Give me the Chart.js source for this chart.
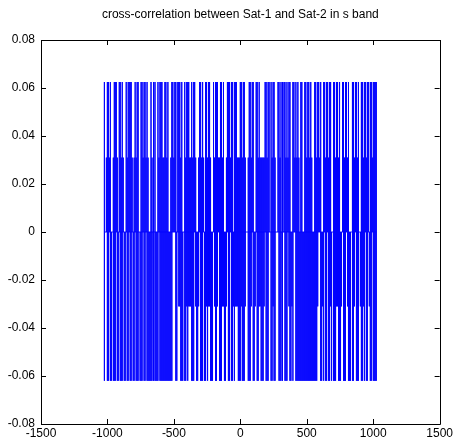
<!DOCTYPE html>
<html>
<head>
<meta charset="utf-8">
<script src="https://cdn.jsdelivr.net/npm/chart.js@4/dist/chart.umd.min.js"></script>
<style>
	html, body { margin: 0; padding: 0; background: #ffffff; }
	#wrap { width: 455px; height: 439px; }
</style>
</head>
<body>
<div id="wrap"><canvas id="xcorr-chart" width="455" height="439"></canvas></div>
<script>
"use strict";

// one character per pixel column:
// 0 = no stroke, 1 = stroke to the middle level, 2 = stroke to the peak level
const topBands = [
	"2012212001222102212100212",
	"2221012122002212212100212",
	"2200212221122120012212202",
	"2212002122211212210012212",
	"1022122100212221122120012",
	"2212202221112212210012212",
	"2002212111112212202122100",
	"2212202212122002212121022",
	"0022122121002212212002212",
	"2122002212212002212212000",
	"2212212002212212202212222"
];
const bottomBands = [
	"2002202202220220222022022",
	"0220220222022202202222222",
	"2222202222222222222000220",
	"1122202212111222012210222",
	"0221211222012210222112210",
	"2202212111222122210022210",
	"2210221122210222002212200",
	"0222210222012212002222222",
	"2222222222222221002212022",
	"0221202221122210222012220",
	"2210222012212022012202222"
];

const lagStart = -1023;
const lagEnd = 1023;
const peakHigh = 0.0625;
const midHigh = 0.031;
const baseLevel = 0;
const midLow = -0.031;
const peakLow = -0.062;

const xTicks = [-1500, -1000, -500, 0, 500, 1000, 1500];
const yTicks = [-0.08, -0.06, -0.04, -0.02, 0, 0.02, 0.04, 0.06, 0.08];
const titleText = "cross-correlation between Sat-1 and Sat-2 in s band";

const FONT = "'Liberation Sans', Arial, sans-serif";

function buildPoints(){
	const top = topBands.join("");
	const bottom = bottomBands.join("");
	const n = top.length;
	const step = (lagEnd - lagStart) / (n - 1);
	const points = [];
	for (let i = 0; i < n; i++) {
		const x = lagStart + i * step;
		points.push({x: x, y: baseLevel});
		if (top[i] !== "0") {
			points.push({x: x, y: top[i] === "2" ? peakHigh : midHigh});
		}
		if (bottom[i] !== "0") {
			points.push({x: x, y: bottom[i] === "2" ? peakLow : midLow});
		}
		points.push({x: x, y: baseLevel});
	}
	return points;
}

// matlab style box with ticks pointing inwards on every side, title over the axes
const boxPlugin = {
	id: "box",
	afterDraw(chart){
		const ctx = chart.ctx;
		const a = chart.chartArea;
		const xs = chart.scales.x;
		const ys = chart.scales.y;
		const len = 5;
		ctx.save();
		ctx.strokeStyle = "#000000";
		ctx.lineWidth = 1;
		ctx.beginPath();
		ctx.rect(Math.round(a.left) + 0.5, Math.round(a.top) + 0.5, Math.round(a.right - a.left), Math.round(a.bottom - a.top));
		xTicks.forEach(v => {
			const px = Math.round(xs.getPixelForValue(v)) + 0.5;
			ctx.moveTo(px, a.bottom);
			ctx.lineTo(px, a.bottom - len);
			ctx.moveTo(px, a.top);
			ctx.lineTo(px, a.top + len);
		});
		yTicks.forEach(v => {
			const py = Math.round(ys.getPixelForValue(v)) + 0.5;
			ctx.moveTo(a.left, py);
			ctx.lineTo(a.left + len, py);
			ctx.moveTo(a.right, py);
			ctx.lineTo(a.right - len, py);
		});
		ctx.stroke();

		ctx.fillStyle = "#000000";
		ctx.font = "12px " + FONT;
		ctx.textAlign = "center";
		ctx.textBaseline = "middle";
		ctx.fillText(titleText, (a.left + a.right) / 2, 15);
		ctx.restore();
	}
};

const ctx = document.querySelector("#xcorr-chart").getContext("2d");

new Chart(ctx, {
	type: "line",
	data: {
		datasets: [{
			label: "xcorr",
			data: buildPoints(),
			borderColor: "#0000ff",
			borderWidth: 1,
			pointRadius: 0,
			fill: false,
			tension: 0
		}]
	},
	options: {
		responsive: false,
		animation: false,
		layout: {
			padding: {left: 0, right: 11, top: 40, bottom: 0}
		},
		plugins: {
			legend: {display: false},
			tooltip: {enabled: false},
			title: {display: false}
		},
		scales: {
			x: {
				type: "linear",
				min: -1500,
				max: 1500,
				afterBuildTicks: scale => { scale.ticks = xTicks.map(v => ({value: v})); },
				afterFit: scale => { scale.height = 15; },
				grid: {display: false, drawTicks: false},
				border: {display: false},
				ticks: {
					color: "#000000",
					padding: 2,
					maxRotation: 0,
					autoSkip: false,
					font: {family: FONT, size: 12},
					callback: v => String(v)
				}
			},
			y: {
				type: "linear",
				min: -0.08,
				max: 0.08,
				afterBuildTicks: scale => { scale.ticks = yTicks.map(v => ({value: v})); },
				afterFit: scale => { scale.width = 41; },
				grid: {display: false, drawTicks: false},
				border: {display: false},
				ticks: {
					color: "#000000",
					padding: 6,
					autoSkip: false,
					font: {family: FONT, size: 12},
					callback: v => String(Number(v.toFixed(2)))
				}
			}
		}
	},
	plugins: [boxPlugin]
});
</script>
</body>
</html>
